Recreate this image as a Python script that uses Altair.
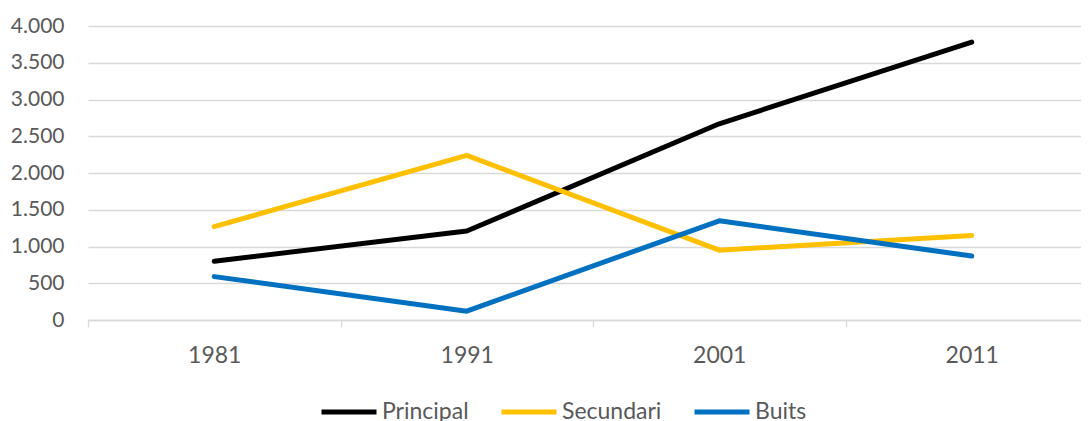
import altair as alt
import pandas as pd

years = ["1981", "1991", "2001", "2011"]
series = ["Principal", "Secundari", "Buits"]
principal = [800, 1210, 2670, 3780]
secundari = [1270, 2240, 950, 1150]
buits = [590, 120, 1350, 870]
colors = ["#000000", "#FFC000", "#0070C0"]
y_ticks = [0, 500, 1000, 1500, 2000, 2500, 3000, 3500, 4000]

rows = []
for name, vals in zip(series, [principal, secundari, buits]):
    for yr, v in zip(years, vals):
        rows.append({"Any": yr, "Serie": name, "Valor": v})
df = pd.DataFrame(rows)

FONT = "Lato"
GREY = "#595959"
GRID = "#d9d9d9"

chart = alt.Chart(df).mark_line(
    strokeWidth=5, strokeCap="round", strokeJoin="round"
).encode(
    x=alt.X(
        "Any:O",
        bandPosition=0.5,
        sort=years,
        scale=alt.Scale(type="band", range=[0, 1010], paddingInner=0, paddingOuter=0),
        axis=alt.Axis(
            title=None, labelAngle=0, tickBand="extent", grid=False,
            domainColor=GRID, domainWidth=1.3, tickColor=GRID, tickWidth=1.3,
            tickSize=7, labelPadding=17, labelFontSize=23, labelFont=FONT,
            labelColor=GREY,
        ),
    ),
    y=alt.Y(
        "Valor:Q",
        scale=alt.Scale(domain=[0, 4000], nice=False),
        axis=alt.Axis(
            values=y_ticks, title=None, domain=False, ticks=False,
            gridColor=GRID, gridWidth=1.3,
            labelExpr="replace(format(datum.value, ','), ',', '.')",
            labelFontSize=21, labelFont=FONT, labelColor=GREY, labelPadding=24,
        ),
    ),
    color=alt.Color(
        "Serie:N",
        sort=series,
        scale=alt.Scale(domain=series, range=colors),
        legend=alt.Legend(
            title=None, orient="none", legendX=231, legendY=356,
            direction="horizontal", symbolType="stroke", symbolSize=3025,
            symbolStrokeWidth=5, labelFontSize=23, labelFont=FONT,
            labelColor=GREY, labelOffset=3, columnPadding=22, padding=0,
        ),
    ),
).properties(
    width=993,
    height=294,
    autosize=alt.AutoSizeParams(type="none"),
    padding={"left": 80, "top": 18, "right": 0, "bottom": 101},
    background="white",
).configure_view(stroke=None)

chart.save("out.html", embed_options={"renderer": "svg", "actions": False})
